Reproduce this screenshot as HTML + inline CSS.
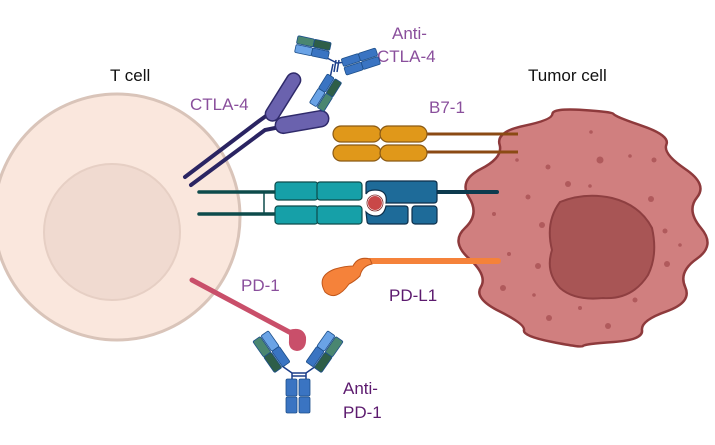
<!DOCTYPE html>
<html><head><meta charset="utf-8"><style>
html,body{margin:0;padding:0;background:#fff}
svg{display:block}
text{font-family:"Liberation Sans",sans-serif}
</style></head><body>
<svg width="715" height="445" viewBox="0 0 715 445" xmlns="http://www.w3.org/2000/svg">
<circle cx="117" cy="217" r="123" fill="#fae7dd" stroke="#d9c4b9" stroke-width="3"/>
<circle cx="112" cy="232" r="68" fill="#f0dad0" stroke="#e6cfc4" stroke-width="2"/>
<path d="M701,228 Q715.8,245.5 697,258.6 T685.2,287 T666.4,311.4 T642,330.2 T613.6,342 T583,346 T552.4,342 T524,330.2 T499.6,311.4 T480.8,287 T469,258.6 T465,228 T469,197.4 T480.8,169 T499.6,144.6 T524,125.8 T552.4,114 T583,110 T613.6,114 T642,125.8 T666.4,144.6 T685.2,169 T697,197.4 T701,228 Z" fill="#d07f7f" stroke="#8e3a3c" stroke-width="2.5"/>
<path d="M560,202 Q585,192 612,198 Q640,205 652,228 Q658,255 648,275 Q632,300 603,298 Q575,301 560,288 Q545,272 552,250 Q545,222 560,202 Z" fill="#a85555" stroke="#8e3f41" stroke-width="2"/>
<g fill="#b05a5c">
<circle cx="600" cy="160" r="3.5"/><circle cx="548" cy="167" r="2.5"/><circle cx="568" cy="184" r="3"/><circle cx="528" cy="197" r="2.5"/><circle cx="651" cy="199" r="3"/><circle cx="494" cy="214" r="2"/><circle cx="542" cy="225" r="3"/><circle cx="665" cy="231" r="2.5"/><circle cx="509" cy="254" r="2"/><circle cx="538" cy="266" r="3"/><circle cx="667" cy="264" r="3"/><circle cx="503" cy="288" r="3"/><circle cx="635" cy="300" r="2.5"/><circle cx="580" cy="308" r="2"/><circle cx="549" cy="318" r="3"/><circle cx="608" cy="326" r="3"/><circle cx="654" cy="160" r="2.5"/><circle cx="630" cy="156" r="1.8"/><circle cx="590" cy="186" r="1.8"/><circle cx="517" cy="160" r="1.8"/><circle cx="680" cy="245" r="1.8"/><circle cx="534" cy="295" r="1.8"/><circle cx="591" cy="132" r="1.8"/>
</g>
<text x="110" y="81" font-size="17" fill="#111">T cell</text>
<text x="528" y="81" font-size="17" fill="#111">Tumor cell</text>
<text x="190" y="110" font-size="17" fill="#8a4f9c">CTLA-4</text>
<text x="392" y="39" font-size="17" fill="#8a4f9c">Anti-</text>
<text x="377" y="62" font-size="17" fill="#8a4f9c">CTLA-4</text>
<text x="429" y="113" font-size="17" fill="#8a4f9c">B7-1</text>
<text x="241" y="291" font-size="17" fill="#8a4f9c">PD-1</text>
<text x="389" y="301" font-size="17" fill="#5c1a6e">PD-L1</text>
<text x="343" y="394" font-size="17" fill="#5c1a6e">Anti-</text>
<text x="343" y="418" font-size="17" fill="#5c1a6e">PD-1</text>
<g stroke="#2a2462" stroke-width="4" stroke-linecap="round" fill="none">
<path d="M185,177 L259,121 L266,116"/>
<path d="M191,185 L265,130 L280,127"/>
</g>
<g fill="#6a62ae" stroke="#2f2a6a" stroke-width="1.5">
<rect x="-27" y="-7" width="54" height="14" rx="7" transform="translate(283,97) rotate(-58)"/>
<rect x="-27" y="-8" width="54" height="16" rx="8" transform="translate(302,122) rotate(-10)"/>
</g>
<g stroke="#1c3e8a" stroke-width="1.5" fill="none">
<path d="M327,58 L337,63 L347,62"/>
<path d="M333,64 L330,78"/>
<path d="M336,60 L334,72 M339,60 L337,72"/>
</g>
<g stroke="#1d4f8a" stroke-width="0.8">
<g transform="translate(313,47) rotate(12)">
<rect x="-17" y="-8" width="17" height="8" rx="1.5" fill="#4a8670"/><rect x="0" y="-8" width="17" height="8" rx="1.5" fill="#2e5e48"/>
<rect x="-17" y="1" width="17" height="8" rx="1.5" fill="#6aa3e6"/><rect x="0" y="1" width="17" height="8" rx="1.5" fill="#3a74c2"/>
</g>
<g transform="translate(361,62) rotate(-18)">
<rect x="-18" y="-9" width="18" height="8" rx="1.5" fill="#3a74c2"/><rect x="0" y="-9" width="18" height="8" rx="1.5" fill="#3a74c2"/>
<rect x="-18" y="0" width="18" height="8" rx="1.5" fill="#3a74c2"/><rect x="0" y="0" width="18" height="8" rx="1.5" fill="#3a74c2"/>
</g>
<g transform="translate(326,93) rotate(-58)">
<rect x="-17" y="-9" width="17" height="8" rx="1.5" fill="#6aa3e6"/><rect x="0" y="-9" width="17" height="8" rx="1.5" fill="#3a74c2"/>
<rect x="-17" y="0" width="17" height="8" rx="1.5" fill="#4a8670"/><rect x="0" y="0" width="17" height="8" rx="1.5" fill="#2e5e48"/>
</g>
</g>
<g stroke="#8b4a14" stroke-width="3"><line x1="425" y1="134" x2="518" y2="134"/><line x1="425" y1="152" x2="518" y2="152"/></g>
<g fill="#e0981a" stroke="#8b5a14" stroke-width="1.2">
<rect x="333" y="126" width="48" height="16" rx="8"/><rect x="380" y="126" width="47" height="16" rx="8"/>
<rect x="333" y="145" width="48" height="16" rx="8"/><rect x="380" y="145" width="47" height="16" rx="8"/>
</g>
<g stroke="#0d4b4b" stroke-width="3.5" stroke-linecap="round"><line x1="199" y1="192" x2="277" y2="192"/><line x1="199" y1="214" x2="277" y2="214"/></g>
<line x1="264" y1="192" x2="264" y2="214" stroke="#0d4b4b" stroke-width="1.5"/>
<line x1="435" y1="192" x2="497" y2="192" stroke="#0d3a4e" stroke-width="4" stroke-linecap="round"/>
<g fill="#16a0a8" stroke="#0d4b4b" stroke-width="1.2">
<rect x="275" y="182" width="43" height="18" rx="3"/><rect x="317" y="182" width="45" height="18" rx="3"/>
<rect x="275" y="206" width="43" height="18" rx="3"/><rect x="317" y="206" width="45" height="18" rx="3"/>
</g>
<g fill="#1e6b99" stroke="#0d2f4a" stroke-width="1.2">
<path d="M370,181 L434,181 Q437,181 437,184 L437,200 Q437,203 434,203 L386,203 Q388,190 375,190 Q368,190 366,194 L366,184 Q366,181 370,181 Z"/>
<path d="M366,212 Q370,216 376,216 Q384,216 386,206 L405,206 Q408,206 408,209 L408,221 Q408,224 405,224 L370,224 Q367,224 367,221 Z"/>
<rect x="412" y="206" width="25" height="18" rx="3"/>
</g>
<circle cx="375" cy="203" r="8" fill="#c94848" stroke="#fff" stroke-width="2"/>
<circle cx="375" cy="203" r="8" fill="none" stroke="#7a2020" stroke-width="0.8"/>
<line x1="192" y1="280" x2="293" y2="334" stroke="#c94f6a" stroke-width="5" stroke-linecap="round"/>
<path d="M289,330 Q303,326 306,337 Q307,350 297,351 Q288,350 289,340 Z" fill="#c94f6a"/>
<line x1="370" y1="261" x2="498" y2="261" stroke="#f5823a" stroke-width="6" stroke-linecap="round"/>
<path d="M325,292 Q316,276 335,269 Q345,266 353,266 Q358,256 370,259 L372,264 Q362,266 360,276 Q355,281 349,284 Q336,302 325,292 Z" fill="#f5823a" stroke="#c0561a" stroke-width="1"/>
<g stroke="#1c3e8a" stroke-width="1.5" fill="none"><path d="M282,366 L292,373 L306,373 L316,366"/><path d="M292,373 L292,380 M306,373 L306,380 M292,376 L306,376"/></g>
<g fill="#3a74c2" stroke="#1d4f8a" stroke-width="0.8">
<rect x="286" y="379" width="11" height="17" rx="1.5"/><rect x="299" y="379" width="11" height="17" rx="1.5"/>
<rect x="286" y="397" width="11" height="16" rx="1.5"/><rect x="299" y="397" width="11" height="16" rx="1.5"/>
</g>
<g stroke="#1d4f8a" stroke-width="0.8">
<g transform="translate(271,352) rotate(55)">
<rect x="-19" y="-10" width="19" height="9" rx="1.5" fill="#6aa3e6"/><rect x="0" y="-10" width="19" height="9" rx="1.5" fill="#3a74c2"/>
<rect x="-19" y="0" width="19" height="9" rx="1.5" fill="#4a8670"/><rect x="0" y="0" width="19" height="9" rx="1.5" fill="#2e5e48"/>
</g>
<g transform="translate(325,352) rotate(-55)">
<rect x="-19" y="-10" width="19" height="9" rx="1.5" fill="#3a74c2"/><rect x="0" y="-10" width="19" height="9" rx="1.5" fill="#6aa3e6"/>
<rect x="-19" y="0" width="19" height="9" rx="1.5" fill="#2e5e48"/><rect x="0" y="0" width="19" height="9" rx="1.5" fill="#4a8670"/>
</g>
</g>
</svg>
</body></html>
